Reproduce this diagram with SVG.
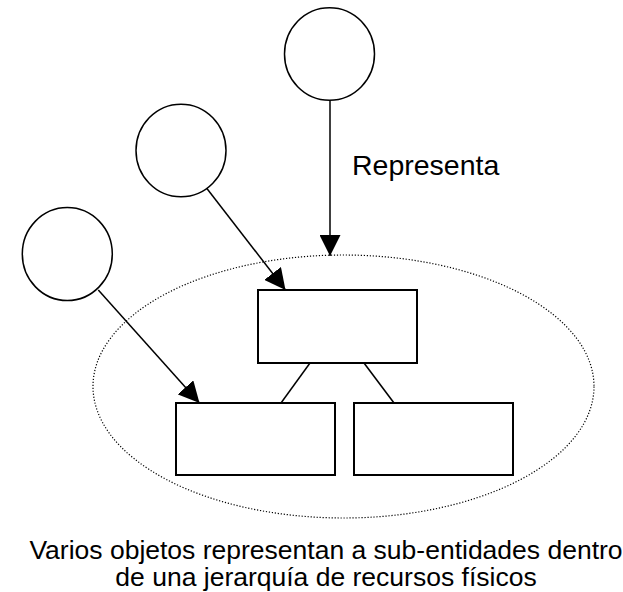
<svg xmlns="http://www.w3.org/2000/svg" width="623" height="592" viewBox="0 0 623 592">
  <style>
    .obj { fill: #ffffff; stroke: #000000; stroke-width: 1.5; }
    .box { fill: #ffffff; stroke: #000000; stroke-width: 2; }
    .scope { fill: none; stroke: #000000; stroke-width: 1.2; stroke-dasharray: 1.2 1.8; }
    .link { fill: none; stroke: #000000; stroke-width: 1.5; }
    .tree { fill: none; stroke: #000000; stroke-width: 1.5; }
    .label { font-family: "Liberation Sans", Arial, sans-serif; font-size: 26.5px; fill: #000000; }
    .tag { font-size: 28.5px; }
  </style>
  <defs>
    <marker id="head" markerUnits="userSpaceOnUse" markerWidth="21" markerHeight="21" viewBox="0 0 20 20" refX="20" refY="10" orient="auto">
      <path d="M0,0 L20,10 L0,20 Z" fill="#000000"/>
    </marker>
  </defs>

  <!-- grouping boundary around the resource hierarchy -->
  <ellipse id="scope" class="scope" cx="343.5" cy="386.5" rx="250.5" ry="131.5"/>

  <!-- hierarchy boxes -->
  <g id="res-parent"><rect class="box" x="258" y="290" width="159" height="73"/></g>
  <g id="res-child-a"><rect class="box" x="176" y="403" width="159" height="72"/></g>
  <g id="res-child-b"><rect class="box" x="354" y="403" width="159" height="72"/></g>

  <!-- objects -->
  <g id="obj-top"><ellipse class="obj" cx="329.5" cy="54" rx="45" ry="46.3"/></g>
  <g id="obj-mid"><ellipse class="obj" cx="181" cy="150.5" rx="45" ry="46.3"/></g>
  <g id="obj-left"><ellipse class="obj" cx="67.3" cy="254" rx="45" ry="46.5"/></g>

  <!-- connectors -->
  <g id="connectors">
    <line class="tree" x1="310" y1="363" x2="281" y2="403"/>
    <line class="tree" x1="364" y1="363" x2="394" y2="403"/>
    <line class="link" x1="330" y1="100.5" x2="330" y2="256" marker-end="url(#head)"/>
    <line class="link" x1="206.7" y1="188.3" x2="285.5" y2="290" marker-end="url(#head)"/>
    <line class="link" x1="98.3" y1="290" x2="199.5" y2="403" marker-end="url(#head)"/>
  </g>

  <!-- labels -->
  <text class="label tag" x="352" y="175">Representa</text>
  <text class="label" x="326" y="559" text-anchor="middle">Varios objetos representan a sub-entidades dentro</text>
  <text class="label" x="326" y="586" text-anchor="middle">de una jerarquía de recursos físicos</text>
</svg>
